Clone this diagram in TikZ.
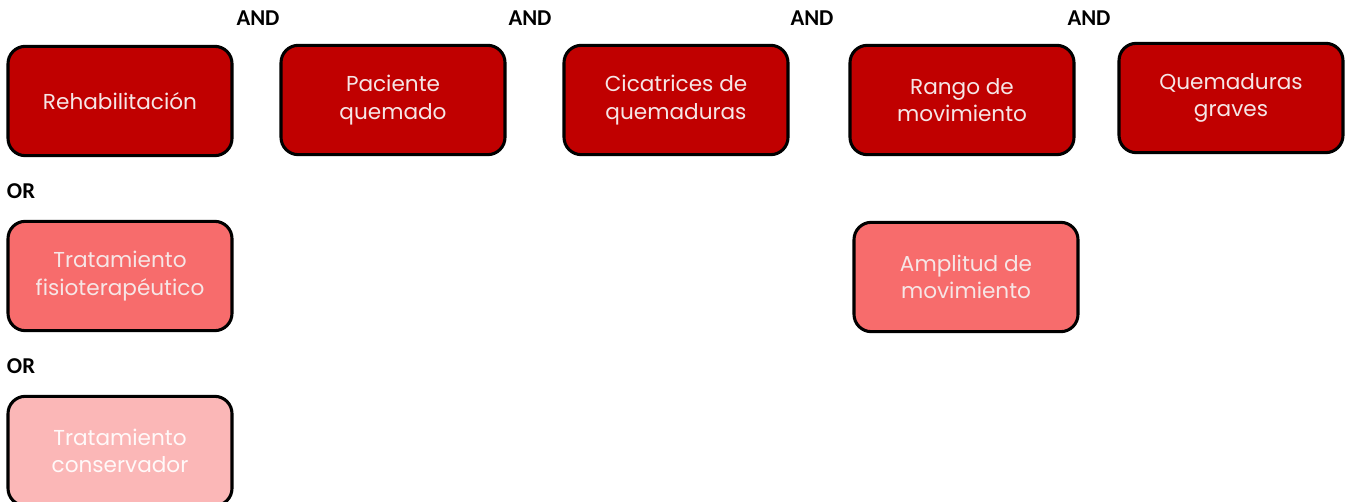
\documentclass[tikz,border=0pt]{standalone}
\usepackage{fontspec}
\setmainfont{Poppins}
\newfontfamily\opfont{Carlito}
\usepackage{tikz}
\usetikzlibrary{positioning}

\definecolor{darkred}{HTML}{C00000}
\definecolor{midred}{HTML}{F76C6C}
\definecolor{palered}{HTML}{FBB7B7}
\definecolor{boxtext}{HTML}{F6E6E6}

\begin{document}
\begin{tikzpicture}[x=0.75pt, y=-0.75pt,
  termbox/.style={draw=black, line width=2.3pt, rounded corners=13pt,
    minimum width=168pt, minimum height=82pt, align=center,
    text=boxtext, font=\fontsize{16.2}{20.5}\selectfont},
  mainterm/.style={termbox, fill=darkred},
  synonym/.style={termbox, fill=midred},
  altterm/.style={termbox, fill=palered, text=white!92!palered},
  oplabel/.style={font=\opfont\bfseries\fontsize{17}{18}\selectfont, inner sep=0pt}
]
\useasboundingbox (0,0) rectangle (1348,502);
% search terms
\node[mainterm] (rehab) at (120,101) {Rehabilitación};
\node[mainterm] (burnpat) at (393,100) {Paciente\\quemado};
\node[mainterm] (scars) at (676,100) {Cicatrices de\\quemaduras};
\node[mainterm] (range) at (962,100) {Rango de\\movimiento};
\node[mainterm] (severe) at (1231,98) {Quemaduras\\graves};
% alternative terms
\node[synonym] (physio) at (120,276) {Tratamiento\\fisioterapéutico};
\node[synonym] (ampl) at (966,277) {Amplitud de\\movimiento};
\node[altterm] (conserv) at (120,451) {Tratamiento\\conservador};
% operators
\node[oplabel] (and1) at (258,18) {AND};
\node[oplabel] (and2) at (530,18) {AND};
\node[oplabel] (and3) at (812,18) {AND};
\node[oplabel] (and4) at (1089,18) {AND};
\node[oplabel] (or1) at (21,191) {OR};
\node[oplabel] (or2) at (21,366) {OR};
\end{tikzpicture}
\end{document}
